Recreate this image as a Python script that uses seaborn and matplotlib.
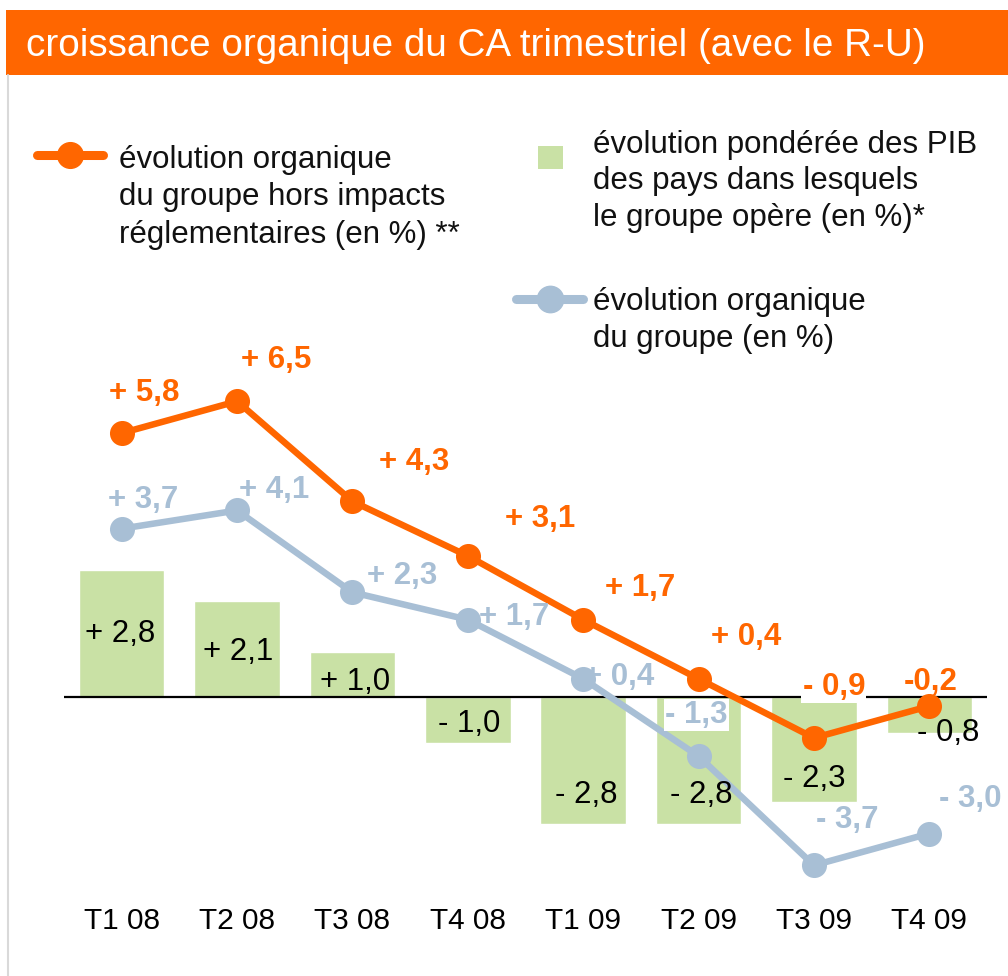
import matplotlib
matplotlib.use("Agg")
import matplotlib.pyplot as plt
import seaborn as sns
import pandas as pd
from matplotlib.lines import Line2D
from matplotlib.patches import Rectangle

# ---------------- data ----------------
quarters = ["T1 08", "T2 08", "T3 08", "T4 08", "T1 09", "T2 09", "T3 09", "T4 09"]
pib = [2.8, 2.1, 1.0, -1.0, -2.8, -2.8, -2.3, -0.8]
hors_impacts = [5.8, 6.5, 4.3, 3.1, 1.7, 0.4, -0.9, -0.2]
organique = [3.7, 4.1, 2.3, 1.7, 0.4, -1.3, -3.7, -3.0]

title = "croissance organique du CA trimestriel (avec le R-U)"
leg_orange = "évolution organique\ndu groupe hors impacts\nréglementaires (en %) **"
leg_green = "évolution pondérée des PIB\ndes pays dans lesquels\nle groupe opère (en %)*"
leg_blue = "évolution organique\ndu groupe (en %)"

# label offsets in pixels (dx, dy screen-down) relative to the point / bar end
off_orange = [(23, -40), (39, -41), (62, -39), (72, -37), (57, -32), (48, -42), (20, -51), (1, -24)]
off_blue = [(21, -29), (37, -20), (50, -16), (46, -3), (36, -2), (-2, -41), (33, -45), (41, -34)]
off_bar = [(-2, 64), (1, 51), (3, 30), (1, -19), (3, -29), (3, -29), (0, -23), (19, 0)]
boxed_orange = {6}
boxed_blue = {5}
nospace_orange = {7}

ORANGE = "#ff6600"
BLUE = "#a8bfd5"
GREEN = "#c9e1a5"

W, H = 1008, 976


def fmt(v, space=True):
    sign = "+" if v >= 0 else "-"
    return f"{sign}{' ' if space else ''}{abs(v):.1f}".replace(".", ",")


def fx(px):
    return px / W


def fy(py):
    return 1 - py / H


sns.set_style("white")
plt.rcParams["font.family"] = ["Liberation Sans", "DejaVu Sans"]

fig = plt.figure(figsize=(W / 100, H / 100), dpi=100)

# axes geometry: zero line at y=697px, 45.5 px per unit
ax_top, ax_bot = 80, 890
ppu = 45.5
zero_px = 697
ax = fig.add_axes([fx(64), fy(ax_bot), (987 - 64) / W, (ax_bot - ax_top) / H])

df = pd.DataFrame({"quarter": quarters, "pib": pib,
                   "hors": hors_impacts, "org": organique})

sns.barplot(data=df, x="quarter", y="pib", color=GREEN, saturation=1,
            width=0.74, errorbar=None, ax=ax, zorder=1)
ax.axhline(0, color="black", lw=1.6, zorder=2)
sns.pointplot(data=df, x="quarter", y="org", color=BLUE, markers="o",
              linestyles="-", errorbar=None, ax=ax, markersize=14.5,
              linewidth=4.7)
sns.pointplot(data=df, x="quarter", y="hors", color=ORANGE, markers="o",
              linestyles="-", errorbar=None, ax=ax, markersize=14.5,
              linewidth=4.7)

ax.set_xlim(-0.5, 7.5)
ax.set_ylim(-(ax_bot - zero_px) / ppu, (zero_px - ax_top) / ppu)
for s in ax.spines.values():
    s.set_visible(False)
ax.set_yticks([])
ax.set_xlabel("")
ax.set_ylabel("")
ax.tick_params(axis="x", length=0, pad=12, labelsize=21.5, labelcolor="black")

FS = 22.5
for i, v in enumerate(pib):
    dx, dy = off_bar[i]
    ax.annotate(fmt(v), (i, v), xytext=(dx, -dy), textcoords="offset pixels",
                ha="center", va="center", fontsize=FS, color="black", zorder=3)
for i, v in enumerate(organique):
    dx, dy = off_blue[i]
    bbox = dict(facecolor="white", edgecolor="none", pad=1) if i in boxed_blue else None
    ax.annotate(fmt(v), (i, v), xytext=(dx, -dy), textcoords="offset pixels",
                ha="center", va="center", fontsize=FS, color=BLUE,
                fontweight="bold", bbox=bbox, zorder=6)
for i, v in enumerate(hors_impacts):
    dx, dy = off_orange[i]
    bbox = dict(facecolor="white", edgecolor="none", pad=1) if i in boxed_orange else None
    ax.annotate(fmt(v, i not in nospace_orange), (i, v), xytext=(dx, -dy),
                textcoords="offset pixels", ha="center", va="center",
                fontsize=FS, color=ORANGE, fontweight="bold", bbox=bbox, zorder=6)

# ---------------- header & frame ----------------
fig.add_artist(Rectangle((fx(6), fy(75)), 1 - fx(6), (75 - 10) / H,
                         transform=fig.transFigure, facecolor=ORANGE,
                         edgecolor="none"))
fig.text(fx(26), fy(46), title, color="white", fontsize=27.8,
         ha="left", va="center")
fig.add_artist(Line2D([fx(8), fx(8)], [fy(75), 0], transform=fig.transFigure,
                      color="#d9d9d9", lw=1.5))

# ---------------- legend ----------------
LS = 1.32
fig.add_artist(Line2D([fx(37), fx(103)], [fy(155), fy(155)], transform=fig.transFigure,
                      color=ORANGE, lw=6.5))
fig.add_artist(Line2D([fx(70)], [fy(155)], transform=fig.transFigure, marker="o",
                      markersize=18.5, color=ORANGE, lw=0))
fig.text(fx(119), fy(145), leg_orange, fontsize=FS, ha="left", va="top",
         linespacing=LS, color="#111111")

fig.add_artist(Rectangle((fx(538), fy(169)), 24.5 / W, 23 / H,
                         transform=fig.transFigure, facecolor=GREEN, edgecolor="none"))
fig.text(fx(593), fy(130), leg_green, fontsize=FS, ha="left", va="top",
         linespacing=1.28, color="#111111")

fig.add_artist(Line2D([fx(516), fx(583)], [fy(299), fy(299)], transform=fig.transFigure,
                      color=BLUE, lw=6.5))
fig.add_artist(Line2D([fx(550)], [fy(299)], transform=fig.transFigure, marker="o",
                      markersize=19, color=BLUE, lw=0))
fig.text(fx(593), fy(287), leg_blue, fontsize=FS, ha="left", va="top",
         linespacing=LS, color="#111111")

fig.savefig("out.png", dpi=100)
